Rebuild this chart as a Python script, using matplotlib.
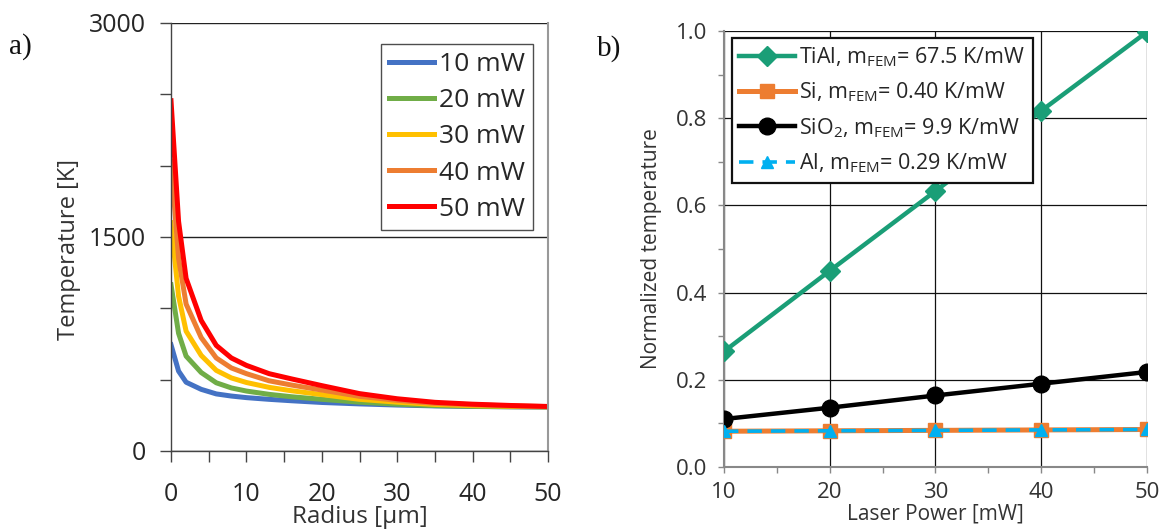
import matplotlib
matplotlib.use('Agg')
import matplotlib.pyplot as plt
from matplotlib.ticker import MultipleLocator

plt.rcParams['font.family'] = ['Open Sans', 'DejaVu Sans']
plt.rcParams['mathtext.default'] = 'regular'

# --- panel a: temperature vs radius ---
radius = [0, 1, 2, 4, 6, 8, 10, 13, 16, 20, 25, 30, 35, 40, 45, 50]
temp_10 = [744, 560, 482, 432, 400, 385, 374, 362, 352, 340, 330, 322, 316, 312, 310, 308]
temp_20 = [1165, 825, 665, 550, 478, 442, 420, 397, 380, 362, 342, 328, 318, 313, 310, 309]
temp_30 = [1600, 1085, 840, 670, 565, 512, 480, 446, 422, 395, 362, 342, 326, 318, 313, 310]
temp_40 = [2030, 1350, 1030, 795, 652, 582, 542, 492, 462, 427, 383, 355, 334, 324, 316, 311]
temp_50 = [2455, 1610, 1210, 915, 740, 652, 600, 542, 505, 458, 402, 366, 341, 328, 319, 312]
power_labels = ['10 mW', '20 mW', '30 mW', '40 mW', '50 mW']
curve_colors = ['#4472C4', '#70AD47', '#FFC000', '#ED7D31', '#FF0000']

# --- panel b: normalized temperature vs laser power ---
power = [10, 20, 30, 40, 50]
tial = [0.265, 0.450, 0.633, 0.817, 0.998]
si = [0.082, 0.083, 0.084, 0.085, 0.086]
sio2 = [0.110, 0.136, 0.164, 0.191, 0.218]
al = [0.082, 0.083, 0.084, 0.085, 0.086]

fig = plt.figure(figsize=(11.69, 5.32), dpi=100)

# ---------- a) ----------
ax1 = fig.add_axes([0.1463, 0.1523, 0.3225, 0.8045])
for temps, lab, col in zip([temp_10, temp_20, temp_30, temp_40, temp_50], power_labels, curve_colors):
    ax1.plot(radius, temps, color=col, lw=3.6, label=lab, solid_joinstyle='round')
ax1.set_xlim(0, 50)
ax1.set_ylim(0, 3000)
ax1.xaxis.set_major_locator(MultipleLocator(10))
ax1.xaxis.set_minor_locator(MultipleLocator(5))
ax1.yaxis.set_major_locator(MultipleLocator(1500))
ax1.yaxis.set_minor_locator(MultipleLocator(500))
ax1.grid(True, which='major', axis='y', color='#222222', lw=1.0)
ax1.set_axisbelow(True)
ax1.tick_params(which='both', direction='out', length=8, width=1.0, color='#444444',
                labelsize=18, labelcolor='#262626')
ax1.tick_params(axis='x', pad=14)
ax1.tick_params(axis='y', pad=10)
for s in ['left', 'bottom']:
    ax1.spines[s].set_color('#444444')
    ax1.spines[s].set_linewidth(1.0)
ax1.spines['top'].set_visible(False)
ax1.spines['right'].set_color('#999999')
ax1.spines['right'].set_linewidth(1.5)
ax1.set_xlabel('Radius [µm]', fontsize=17.5, color='#333333', labelpad=-1)
ax1.set_ylabel('Temperature [K]', fontsize=17, color='#333333')
ax1.yaxis.set_label_coords(-0.24, 0.47)
leg1 = ax1.legend(loc='upper right', bbox_to_anchor=(0.96, 0.95), fontsize=19,
                  frameon=True, fancybox=False, handlelength=1.7, handletextpad=0.2,
                  labelspacing=0.42, borderpad=0.3, borderaxespad=0.0)
leg1.get_frame().set_edgecolor('#222222')
leg1.get_frame().set_linewidth(1.0)
for t in leg1.get_texts():
    t.set_color('#262626')

fig.text(0.008, 0.9, 'a)', fontsize=21, family=['Liberation Serif', 'DejaVu Serif'], color='#111111')

# ---------- b) ----------
ax2 = fig.add_axes([0.6193, 0.1222, 0.3619, 0.8195])
ax2.plot(power, tial, color='#1A9E77', lw=3.2, marker='D', ms=10, label=r'TiAl, m$_{FEM}$= 67.5 K/mW', zorder=4)
ax2.plot(power, si, color='#ED7D31', lw=3.6, marker='s', ms=10, label=r'Si, m$_{FEM}$= 0.40 K/mW', zorder=3)
ax2.plot(power, sio2, color='#000000', lw=3.2, marker='o', ms=12, label=r'SiO$_2$, m$_{FEM}$= 9.9 K/mW', zorder=4)
ax2.plot(power, al, color='#00B0F0', lw=2.6, ls=(0, (4, 2.5)), marker='^', ms=8, label=r'Al, m$_{FEM}$= 0.29 K/mW', zorder=5)
ax2.set_xlim(10, 50)
ax2.set_ylim(0, 1.0)
ax2.xaxis.set_major_locator(MultipleLocator(10))
ax2.xaxis.set_minor_locator(MultipleLocator(5))
ax2.yaxis.set_major_locator(MultipleLocator(0.2))
ax2.yaxis.set_minor_locator(MultipleLocator(0.1))
ax2.yaxis.set_major_formatter(matplotlib.ticker.FormatStrFormatter('%.1f'))
ax2.grid(True, which='major', color='#111111', lw=0.9)
ax2.set_axisbelow(True)
ax2.tick_params(which='both', direction='out', length=4, width=1.0, color='#888888',
                labelsize=16, labelcolor='#333333')
ax2.tick_params(axis='x', pad=7)
ax2.tick_params(axis='y', pad=8)
for s in ['left', 'bottom']:
    ax2.spines[s].set_color('#888888')
    ax2.spines[s].set_linewidth(1.5)
ax2.spines['top'].set_visible(False)
ax2.spines['right'].set_visible(False)
ax2.set_xlabel('Laser Power [mW]', fontsize=15, color='#333333', labelpad=0)
ax2.set_ylabel('Normalized temperature', fontsize=15, color='#333333', labelpad=10)
leg2 = ax2.legend(loc='upper left', bbox_to_anchor=(0.018, 0.985), fontsize=15.5,
                  frameon=True, fancybox=False, handlelength=2.6, handletextpad=0.2,
                  labelspacing=0.55, borderpad=0.35, borderaxespad=0.0, framealpha=1)
leg2.get_frame().set_edgecolor('#111111')
leg2.get_frame().set_linewidth(1.6)
for t in leg2.get_texts():
    t.set_color('#262626')

fig.text(0.511, 0.895, 'b)', fontsize=21, family=['Liberation Serif', 'DejaVu Serif'], color='#111111')

fig.savefig('out.png', dpi=100)
